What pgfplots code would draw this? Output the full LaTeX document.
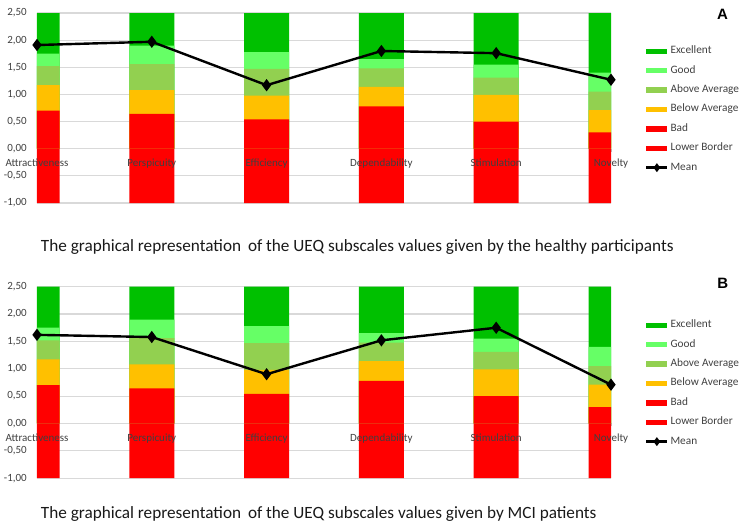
\documentclass[border=0pt]{standalone}
\usepackage{pgfplots}
\usepackage{pgfplotstable}
\pgfplotsset{compat=1.18}
\usepackage{fontspec}
\setmainfont{Carlito}
\newfontfamily\arialfont{Liberation Sans}
\definecolor{cexc}{RGB}{0,192,0}
\definecolor{cgood}{RGB}{102,255,102}
\definecolor{caa}{RGB}{146,208,80}
\definecolor{cba}{RGB}{255,192,0}
\definecolor{cbad}{RGB}{255,0,0}
\definecolor{ctxt}{RGB}{64,64,64}

% upper borders of the benchmark bands (UEQ benchmark)
\pgfplotstableread{
x exc good aa ba bad lb
0 2.5 1.75 1.52 1.17 0.70 -1
1 2.5 1.90 1.56 1.08 0.64 -1
2 2.5 1.78 1.47 0.98 0.54 -1
3 2.5 1.65 1.48 1.14 0.78 -1
4 2.5 1.55 1.31 0.99 0.50 -1
5 2.5 1.40 1.05 0.71 0.30 -1
}\bands

\pgfplotstableread{
x mean
0 1.91
1 1.97
2 1.17
3 1.80
4 1.76
5 1.27
}\meanA

\pgfplotstableread{
x mean
0 1.62
1 1.58
2 0.90
3 1.52
4 1.75
5 0.71
}\meanB

\pgfplotsset{
  barleg/.style={legend image code/.code={\fill[##1] (0bp,-2.7bp) rectangle (21bp,2.7bp);}},
  meanleg/.style={legend image code/.code={\draw[mark repeat=2,mark phase=2,##1, mark size=2.5bp] plot coordinates {(0bp,0bp) (10.5bp,0bp) (21bp,0bp)};}},
  ueq/.style={
    scale only axis, width=574bp,
    xmin=0, xmax=5, ymin=-1, ymax=2.5,
    axis x line*=middle, axis y line*=left,
    y axis line style={draw=none},
    x axis line style={draw=black!15, line width=1.2bp},
    ytick={-1,-0.5,0,0.5,1,1.5,2,2.5},
    ymajorgrids, major grid style={draw=black!15, line width=1.2bp},
    xtick={0,1,2,3,4,5},
    xticklabels={},
    ytick style={draw=none},
    xtick style={draw=black!25, line width=0.8bp},
    major tick length=3bp,
    tick label style={font=\fontsize{11bp}{13bp}\selectfont, text=ctxt},
    yticklabel style={/pgf/number format/fixed, /pgf/number format/fixed zerofill, /pgf/number format/precision=2, /pgf/number format/use comma, /pgf/number format/assume math mode=true},
    yticklabel style={inner sep=0pt, xshift=-10bp},
    ybar, bar width=45bp, bar shift=0pt,
    after end axis/.code={
      \foreach \i/\n in {0/Attractiveness,1/Perspicuity,2/Efficiency,3/Dependability,4/Stimulation,5/Novelty}
        {\node[anchor=north, inner sep=0pt, yshift=-10bp, font=\fontsize{11bp}{13bp}\selectfont, text=ctxt] at (axis cs:\i,0) {\n};}
    },
    legend cell align=left,
    legend style={at={(1.0592,0.826)}, anchor=north west, draw=none, fill=none,
      font=\fontsize{11.3bp}{13bp}\selectfont, text=ctxt,
      inner sep=0pt, row sep=9.4bp, column sep=2bp,
      nodes={inner sep=0pt, text height=7.5bp, text depth=2.5bp}},
  }
}

\begin{document}
\begin{tikzpicture}
\path[use as bounding box] (0,0) rectangle (743bp,-528bp);

\begin{axis}[ueq, height=190bp, at={(37bp,-13bp)}, anchor=north west]
\addplot[fill=cexc, draw=none, barleg] table[x=x,y=exc] {\bands};
\addlegendentry{Excellent}
\addplot[fill=cgood, draw=none, barleg] table[x=x,y=good] {\bands};
\addlegendentry{Good}
\addplot[fill=caa, draw=none, barleg] table[x=x,y=aa] {\bands};
\addlegendentry{Above Average}
\addplot[fill=cba, draw=none, barleg] table[x=x,y=ba] {\bands};
\addlegendentry{Below Average}
\addplot[fill=cbad, draw=none, barleg] table[x=x,y=bad] {\bands};
\addlegendentry{Bad}
\addplot[fill=cbad, draw=none, barleg] table[x=x,y=lb] {\bands};
\addlegendentry{Lower Border}
\addplot[sharp plot, black, line width=2.4bp, mark=diamond*, mark size=4.2bp, meanleg]
  table[x=x,y=mean] {\meanA};
\addlegendentry{Mean}
\end{axis}

\begin{axis}[ueq, height=191.5bp, at={(37bp,-286.7bp)}, anchor=north west]
\addplot[fill=cexc, draw=none, barleg] table[x=x,y=exc] {\bands};
\addlegendentry{Excellent}
\addplot[fill=cgood, draw=none, barleg] table[x=x,y=good] {\bands};
\addlegendentry{Good}
\addplot[fill=caa, draw=none, barleg] table[x=x,y=aa] {\bands};
\addlegendentry{Above Average}
\addplot[fill=cba, draw=none, barleg] table[x=x,y=ba] {\bands};
\addlegendentry{Below Average}
\addplot[fill=cbad, draw=none, barleg] table[x=x,y=bad] {\bands};
\addlegendentry{Bad}
\addplot[fill=cbad, draw=none, barleg] table[x=x,y=lb] {\bands};
\addlegendentry{Lower Border}
\addplot[sharp plot, black, line width=2.4bp, mark=diamond*, mark size=4.2bp, meanleg]
  table[x=x,y=mean] {\meanB};
\addlegendentry{Mean}
\end{axis}

\node[font=\arialfont\bfseries\fontsize{15bp}{18bp}\selectfont, inner sep=0pt] at (722.5bp,-14.3bp) {A};
\node[font=\arialfont\bfseries\fontsize{15bp}{18bp}\selectfont, inner sep=0pt] at (722.7bp,-283bp) {B};

\node[anchor=base west, inner sep=0pt, font=\fontsize{17.2bp}{20bp}\selectfont, text=black!90] at (40.7bp,-251.7bp)
  {The graphical representation\hspace{3bp} of the UEQ subscales values given by the healthy participants};
\node[anchor=base west, inner sep=0pt, font=\fontsize{17.2bp}{20bp}\selectfont, text=black!90] at (40.7bp,-518bp)
  {The graphical representation\hspace{3bp} of the UEQ subscales values given by MCI patients};
\end{tikzpicture}
\end{document}
